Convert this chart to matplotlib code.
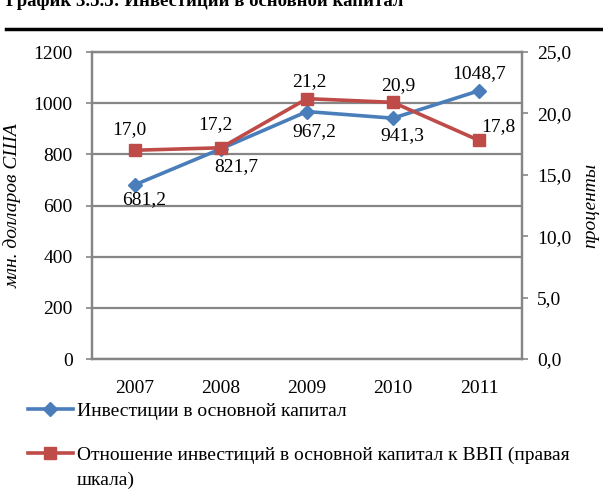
import matplotlib
matplotlib.use("Agg")
import matplotlib.pyplot as plt
from matplotlib.ticker import FuncFormatter, MultipleLocator

plt.rcParams['font.family'] = ['Liberation Serif', 'DejaVu Serif']

years = ['2007', '2008', '2009', '2010', '2011']
investments = [681.2, 821.7, 967.2, 941.3, 1048.7]
ratio_gdp = [17.0, 17.2, 21.2, 20.9, 17.8]

inv_label = 'Инвестиции в основной капитал'
ratio_label_1 = 'Отношение инвестиций в основной капитал к ВВП (правая'
ratio_label_2 = 'шкала)'
title = 'График 3.5.5: Инвестиции в основной капитал'

blue = '#4A7EBB'
red = '#BE4B48'
grid_c = '#868686'
fs = 14

fig = plt.figure(figsize=(6.03, 4.96), dpi=100)
ax = fig.add_axes([92/603, 137/496, 430/603, 307/496])
ax2 = ax.twinx()

x = list(range(len(years)))
l1, = ax.plot(x, investments, color=blue, lw=2.6, marker='D', ms=7, zorder=3)
l2, = ax2.plot(x, ratio_gdp, color=red, lw=2.6, marker='s', ms=9, zorder=3)

ax.set_xlim(-0.5, 4.5)
ax.set_ylim(0, 1200)
ax2.set_ylim(0, 25)
ax.yaxis.set_major_locator(MultipleLocator(200))
ax2.yaxis.set_major_locator(MultipleLocator(5))
ax2.yaxis.set_major_formatter(FuncFormatter(lambda v, p: f'{v:.1f}'.replace('.', ',')))
ax.set_xticks(x)
ax.set_xticklabels(years)

ax.grid(axis='y', color=grid_c, lw=1.6)
ax.set_axisbelow(True)
for a in (ax, ax2):
    for s in a.spines.values():
        s.set_color(grid_c)
        s.set_linewidth(1.6)
ax.tick_params(axis='x', length=0, pad=15, labelsize=fs)
ax.tick_params(axis='y', length=4, width=1.2, color=grid_c, pad=10, labelsize=fs)
ax2.tick_params(axis='y', length=4, width=1.2, color=grid_c, pad=7, labelsize=fs)

ax.set_ylabel('млн. долларов США', fontsize=fs, style='italic')
ax.yaxis.set_label_coords(-0.163, 0.5)
ax2.set_ylabel('проценты', fontsize=fs, style='italic', labelpad=8)

def fmt(v):
    return f'{v:.1f}'.replace('.', ',')

inv_off = [(9, -15), (15, -18), (7, -20), (9, -17), (0, 17)]
rat_off = [(-6, 21), (-6, 23), (2, 17), (5, 17), (19, 14)]
for i, v in enumerate(investments):
    ax.annotate(fmt(v), (x[i], v), xytext=inv_off[i], textcoords='offset pixels',
                ha='center', va='center', fontsize=fs)
for i, v in enumerate(ratio_gdp):
    ax2.annotate(fmt(v), (x[i], v), xytext=rat_off[i], textcoords='offset pixels',
                 ha='center', va='center', fontsize=fs)

leg_kw = dict(loc='center left', frameon=False, fontsize=fs, handlelength=2.3,
              handletextpad=0.2, borderpad=0, borderaxespad=0)
fig.legend([l1], [inv_label], bbox_to_anchor=(28/603, 1 - 411/496), **leg_kw)
fig.legend([l2], [ratio_label_1], bbox_to_anchor=(28/603, 1 - 455/496), **leg_kw)
fig.text(77/603, 1 - 480/496, ratio_label_2, fontsize=fs, va='center', ha='left')

fig.text(6/603, 1 - 6/496, title, fontsize=13.5, fontweight='bold', va='baseline', ha='left')
fig.add_artist(plt.Line2D([6/603, 1], [1 - 29/496, 1 - 29/496], color='black', lw=2.5,
                          transform=fig.transFigure))

fig.savefig('out.png', dpi=100)
